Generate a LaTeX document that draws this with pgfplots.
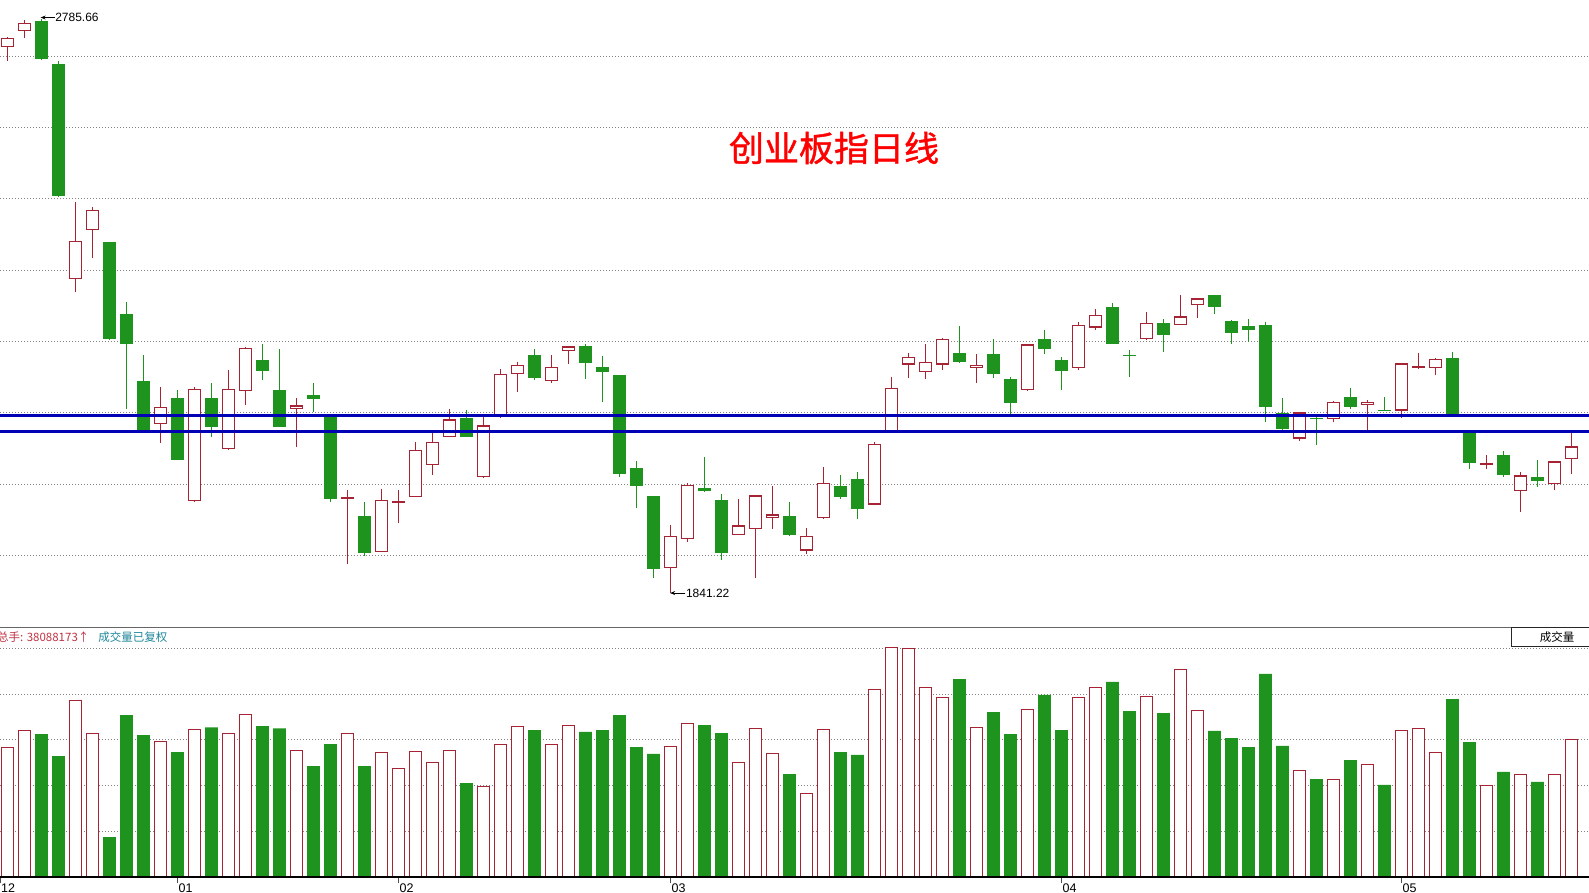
\documentclass[border=0pt]{standalone}
\usepackage{pgfplots}
\pgfplotsset{compat=1.18}
\usepackage{pgfplotstable}
\usepackage{fontspec}
\usetikzlibrary{arrows.meta}
\setmainfont{Liberation Sans}
\newfontfamily\cjk{Noto Sans CJK SC}
\newfontfamily\cjkt{Noto Sans CJK SC}[FakeBold=1.2]
\definecolor{upc}{RGB}{165,35,50}
\definecolor{dnc}{RGB}{30,148,30}
\definecolor{blc}{RGB}{0,0,180}
\definecolor{gridc}{RGB}{130,130,130}
\definecolor{hdrred}{RGB}{192,50,66}
\definecolor{hdrteal}{RGB}{30,135,155}
% rising days (red, hollow)
\pgfplotstableread{
i o h l c v
0 2738.3 2755.0 2715.3 2753.6 36.0
1 2765.1 2784.0 2754.3 2779.0 40.7
4 2357.2 2485.1 2336.7 2419.9 49.1
5 2437.8 2476.1 2393.0 2471.0 39.9
9 2119.4 2180.1 2088.7 2148.1 37.7
11 1992.8 2180.1 1992.0 2176.9 41.0
13 2077.8 2208.9 2077.0 2176.9 39.9
14 2173.1 2245.9 2151.3 2244.0 45.2
17 2143.7 2162.2 2081.0 2150.0 35.2
20 1997.0 2011.9 1889.2 1998.5 39.9
22 1909.6 2012.6 1909.0 1994.7 34.6
23 1990.8 2011.9 1957.6 1992.2 30.2
24 1999.1 2090.6 1999.0 2076.5 34.9
25 2052.2 2106.6 2036.2 2090.6 31.9
26 2098.3 2144.9 2098.0 2127.0 35.2
28 2031.8 2132.1 2031.0 2117.4 25.2
29 2130.9 2210.1 2130.0 2202.5 36.9
30 2201.2 2221.7 2172.4 2216.5 41.9
32 2189.7 2233.2 2186.5 2213.3 36.9
33 2238.9 2247.5 2218.5 2247.2 42.1
39 1882.8 1953.1 1841.22 1935.2 36.3
40 1930.7 2023.4 1926.3 2019.0 42.7
43 1937.1 1996.6 1937.0 1953.1 31.9
44 1946.7 2002.5 1866.8 2002.3 41.3
45 1964.6 2017.0 1946.7 1971.0 34.4
47 1911.5 1948.6 1905.2 1935.2 23.2
48 1964.6 2049.0 1964.0 2023.4 41.0
51 1987.0 2089.3 1986.5 2087.4 52.1
52 2104.6 2197.4 2104.0 2179.5 63.8
53 2217.2 2236.4 2194.8 2229.3 63.5
54 2204.4 2251.1 2192.9 2221.7 52.7
55 2217.2 2260.5 2207.6 2260.0 49.9
57 2212.1 2234.4 2186.5 2217.2 41.6
60 2175.0 2250.8 2174.5 2250.4 46.6
63 2210.8 2286.9 2207.6 2282.4 49.9
64 2277.9 2308.0 2274.1 2298.4 52.7
67 2258.7 2303.5 2258.0 2285.6 50.2
69 2281.8 2332.3 2281.5 2296.5 57.7
70 2314.4 2327.2 2293.3 2325.9 46.3
76 2095.7 2139.0 2091.9 2138.5 29.6
78 2127.0 2156.8 2122.6 2156.4 27.1
80 2151.3 2159.6 2109.8 2156.4 31.3
82 2141.7 2219.5 2128.9 2219.1 40.7
83 2212.8 2235.7 2210.1 2213.8 41.3
84 2210.8 2228.0 2200.6 2226.1 34.7
87 2053.6 2068.2 2045.8 2054.6 25.5
89 2008.7 2040.7 1975.5 2035.0 28.5
91 2020.2 2058.3 2010.7 2058.0 28.5
92 2061.8 2109.8 2038.1 2082.9 38.09
}\upT
% falling days (green, filled)
\pgfplotstableread{
i o h l c v
2 2782.0 2785.66 2718.0 2719.1 39.7
3 2710.8 2715.3 2493.0 2494.7 33.6
6 2418.6 2419.0 2256.8 2260.0 11.1
7 2300.3 2320.8 2144.9 2251.7 45.0
8 2190.3 2233.2 2107.0 2107.8 39.4
10 2162.2 2175.6 2060.5 2061.2 34.7
12 2162.2 2187.1 2098.9 2114.9 41.6
15 2224.9 2251.1 2192.2 2207.0 41.9
16 2175.6 2242.8 2114.0 2114.9 41.3
18 2167.3 2187.1 2138.5 2160.9 30.8
19 2133.4 2136.6 1991.5 1995.9 36.9
21 1969.1 1991.5 1902.0 1908.4 30.8
27 2128.9 2143.0 2098.5 2098.9 26.1
31 2232.5 2242.8 2191.6 2194.8 40.8
34 2248.5 2251.1 2192.9 2220.4 40.3
35 2214.0 2231.2 2156.4 2205.7 40.8
36 2199.3 2199.5 2031.8 2038.1 45.0
37 2047.1 2058.6 1981.9 2017.0 36.1
38 2001.1 2001.5 1866.8 1880.9 34.2
41 2015.1 2065.0 2008.5 2008.7 42.2
42 1994.7 2004.3 1896.8 1908.4 40.0
46 1969.1 1991.5 1935.2 1937.1 28.6
49 2017.0 2036.2 1996.6 1999.1 34.7
50 2029.8 2040.7 1962.7 1980.0 33.9
56 2235.7 2280.5 2220.4 2221.7 55.0
58 2234.4 2260.0 2194.8 2202.5 45.8
59 2194.2 2196.1 2134.1 2154.5 39.7
61 2258.7 2274.1 2234.4 2242.1 50.6
62 2224.9 2229.3 2175.0 2207.0 40.8
65 2312.5 2318.8 2251.0 2251.7 54.2
66 2233.0 2240.8 2196.1 2232.0 46.1
68 2285.6 2292.0 2237.6 2266.4 45.5
71 2331.6 2332.0 2300.9 2312.5 40.6
72 2289.4 2289.8 2251.7 2268.3 38.6
73 2280.5 2292.0 2254.9 2274.7 36.1
74 2282.4 2286.9 2122.6 2148.1 56.4
75 2137.3 2162.2 2109.8 2111.7 36.4
77 2129.5 2131.0 2085.5 2128.5 27.2
79 2164.1 2178.8 2144.9 2148.1 32.5
81 2142.5 2164.1 2141.0 2141.6 25.6
85 2228.0 2237.6 2133.0 2133.4 49.4
86 2104.6 2106.6 2045.8 2055.4 37.5
88 2068.2 2074.6 2033.0 2036.2 29.2
90 2031.8 2060.5 2015.8 2026.6 26.4
}\dnT
\begin{document}
\begin{tikzpicture}
\useasboundingbox (0,0) rectangle (1589pt,-893pt);
% ---------------- price panel
\begin{axis}[
  at={(0,0)}, anchor=north west, scale only axis,
  width=1589pt, height=627pt,
  xmin=-0.4412, xmax=93.03, ymin=1786.0, ymax=2816.3,
  axis line style={draw=none},
  xtick=\empty,
  ytick={1903.9,2021.0,2138.1,2255.2,2372.3,2489.4,2606.5,2723.6},
  yticklabels={}, major tick length=0pt,
  ymajorgrids,
  grid style={gridc, line width=0.9pt, dash pattern=on 1pt off 2pt},
]
% wicks
\addplot[draw=none, mark=none,
  error bars/.cd, y dir=both, y explicit, error mark=none,
  error bar style={draw=upc, line width=1.3pt}]
  table[x=i, y expr={(\thisrow{h}+\thisrow{l})/2}, y error expr={(\thisrow{h}-\thisrow{l})/2}] {\upT};
\addplot[draw=none, mark=none,
  error bars/.cd, y dir=both, y explicit, error mark=none,
  error bar style={draw=dnc, line width=1.3pt}]
  table[x=i, y expr={(\thisrow{h}+\thisrow{l})/2}, y error expr={(\thisrow{h}-\thisrow{l})/2}] {\dnT};
% up bodies: red frame then white inside
\addplot[draw=none, mark=none,
  error bars/.cd, y dir=both, y explicit, error mark=none,
  error bar style={draw=upc, line width=12.8pt}]
  table[x=i, y expr={(\thisrow{o}+\thisrow{c})/2}, y error expr={max(abs(\thisrow{c}-\thisrow{o})/2,1.2)}] {\upT};
\addplot[draw=none, mark=none,
  error bars/.cd, y dir=both, y explicit, error mark=none,
  error bar style={draw=white, line width=10.4pt}]
  table[x=i, y expr={(\thisrow{o}+\thisrow{c})/2}, y error expr={max(abs(\thisrow{c}-\thisrow{o})/2-1.97,0)}] {\upT};
% down bodies
\addplot[draw=none, mark=none,
  error bars/.cd, y dir=both, y explicit, error mark=none,
  error bar style={draw=dnc, line width=12.8pt}]
  table[x=i, y expr={(\thisrow{o}+\thisrow{c})/2}, y error expr={max(abs(\thisrow{c}-\thisrow{o})/2,1.2)}] {\dnT};
% blue lines
\addplot[blc, line width=2.2pt] coordinates {(-1,2133.4) (94,2133.4)};
\addplot[blc, line width=2.2pt] coordinates {(-1,2107.2) (94,2107.2)};
% extreme labels
\draw[-{Stealth[length=5pt,width=4pt]}, line width=0.8pt] (axis cs:2.78,2787.5) -- (axis cs:1.95,2787.5);
\node[anchor=west, inner sep=0pt, font=\fontsize{12}{12}\selectfont] at (axis cs:2.8,2787.5) {2785.66};
\draw[-{Stealth[length=5pt,width=4pt]}, line width=0.8pt] (axis cs:39.88,1841.8) -- (axis cs:38.98,1841.8);
\node[anchor=west, inner sep=0pt, font=\fontsize{12}{12}\selectfont] at (axis cs:39.9,1841.8) {1841.22};
\end{axis}
% ---------------- volume panel
\begin{axis}[
  at={(0,-627pt)}, anchor=north west, scale only axis,
  width=1589pt, height=250pt,
  xmin=-0.4412, xmax=93.03, ymin=0, ymax=69.45,
  axis line style={draw=none},
  xtick={-0.44,10,23,39,62,82},
  xticklabels={12,01,02,03,04,05},
  xtick pos=left, tick align=outside,
  major tick length=6pt,
  xtick style={black!70, line width=0.8pt},
  xticklabel style={anchor=north west, inner sep=0pt, xshift=1pt, yshift=-1pt, font=\fontsize{12.5}{12}\selectfont},
  ytick={12.696,25.392,38.088,50.784,63.48},
  yticklabels={}, ytick style={draw=none},
  ymajorgrids,
  grid style={gridc, line width=0.9pt, dash pattern=on 1pt off 2pt},
]
\addplot[ybar, bar width=12.8pt, bar shift=0pt, draw=upc, fill=white, line width=1pt]
  table[x=i, y=v] {\upT};
\addplot[ybar, bar width=12.8pt, bar shift=0pt, draw=none, fill=dnc]
  table[x=i, y=v] {\dnT};
\draw[black, line width=1.2pt] (rel axis cs:0,0) -- (rel axis cs:1,0);
\draw[black!60, line width=1.4pt] (rel axis cs:0,1) -- (rel axis cs:1,1);
\end{axis}
% ---------------- texts
\node[anchor=center, inner sep=0pt, text=red, font=\cjkt\fontsize{35}{36}\selectfont] at (834pt,-148pt) {创业板指日线};
\node[anchor=west, inner sep=0pt, font=\cjk\fontsize{11.5}{12}\selectfont] at (-3pt,-637.5pt)
  {\textcolor{hdrred}{总手: 38088173↑}\hspace{9pt}\textcolor{hdrteal}{成交量已复权}};
\draw[black!85, line width=1pt, fill=white] (1511.5pt,-627.5pt) rectangle (1592pt,-646.5pt);
\node[anchor=center, inner sep=0pt, font=\cjk\fontsize{11.5}{12}\selectfont] at (1557pt,-637.5pt) {成交量};
\end{tikzpicture}
\end{document}
